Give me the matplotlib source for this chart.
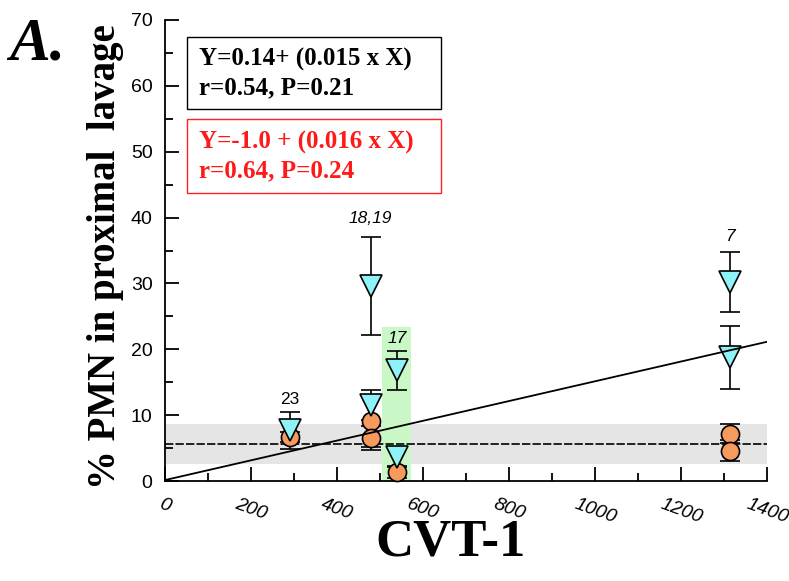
import matplotlib
matplotlib.use("Agg")
import matplotlib.pyplot as plt
from matplotlib.patches import Rectangle
import numpy as np

# ---- data ----
tri_x = [291, 478, 478, 540, 540, 1314, 1314]
tri_y = [7.7, 29.6, 11.5, 16.8, 3.7, 30.2, 18.8]
tri_err = [2.8, 7.5, 2.3, 2.95, 1.5, 4.55, 4.8]

circ_x = [291, 478, 478, 540, 1314, 1314]
circ_y = [6.7, 9.1, 6.5, 1.4, 7.2, 4.6]
circ_err = [0.8, 4.0, 1.8, 0.9, 1.4, 1.6]

ann_x = [291, 478, 540, 1314]
ann_y = [12.3, 39.8, 21.7, 37.1]
ann_text = ["23", "18,19", "17", "7"]
ann_italic = [False, True, True, True]

fit_intercept = 0.14
fit_slope = 0.015
ref_mean = 5.6
ref_low, ref_high = 2.6, 8.6
green_x0, green_x1, green_top = 504, 571, 23.4

xticks = [0, 200, 400, 600, 800, 1000, 1200, 1400]
yticks = [0, 10, 20, 30, 40, 50, 60, 70]

W, H = 789, 581
fig = plt.figure(figsize=(W / 100, H / 100), dpi=100)
ax = fig.add_axes([165 / W, 1 - 481 / H, (767 - 165) / W, (481 - 20) / H])

ax.set_xlim(0, 1400)
ax.set_ylim(0, 70)

# reference band
ax.axhspan(ref_low, ref_high, color="#E5E5E5", zorder=0, lw=0)
ax.axhline(ref_mean, color="black", lw=1.2, dashes=(5, 1.3), zorder=1)
# green highlight
ax.add_patch(Rectangle((green_x0, 0), green_x1 - green_x0, green_top,
                       facecolor="#C9F8C6", edgecolor="none", zorder=0.5))

# error bars
ax.errorbar(circ_x, circ_y, yerr=circ_err, fmt="none", ecolor="black",
            elinewidth=1.2, capsize=7, capthick=1.2, zorder=3)
ax.errorbar(tri_x, tri_y, yerr=tri_err, fmt="none", ecolor="black",
            elinewidth=1.2, capsize=7, capthick=1.2, zorder=3)

ax.plot(circ_x, circ_y, "o", ms=13, mfc="#F79A5E", mec="black", mew=1.2,
        ls="none", zorder=4, clip_on=False)
ax.plot(tri_x, tri_y, "v", ms=15.5, mfc="#8DF3F8", mec="black", mew=1.2,
        ls="none", zorder=5, clip_on=False)

# regression line
xl = np.array([0, 1400])
ax.plot(xl, fit_intercept + fit_slope * xl, color="black", lw=1.3, zorder=6)

for x, y, t, it in zip(ann_x, ann_y, ann_text, ann_italic):
    ax.text(x, y, t, ha="center", va="center", fontsize=12.5,
            fontstyle="italic" if it else "normal", family="Liberation Sans",
            zorder=7)

# spines / ticks
for s in ["top", "right"]:
    ax.spines[s].set_visible(False)
ax.spines["left"].set_linewidth(1.3)
ax.spines["bottom"].set_linewidth(1.3)
ax.set_xticks(xticks)
ax.set_yticks(yticks)
ax.set_xticks(np.arange(100, 1400, 200), minor=True)
ax.set_yticks(np.arange(5, 70, 10), minor=True)
ax.tick_params(which="major", direction="in", length=10, width=1.3)
ax.tick_params(which="minor", direction="in", length=6, width=1.3)
ax.tick_params(axis="y", labelsize=14, pad=9)
ax.tick_params(axis="x", labelsize=14, pad=11)
for lab in ax.get_yticklabels():
    lab.set_family("Liberation Sans")
ax.set_xticklabels([str(v) for v in xticks], rotation=-20, ha="center",
                   va="top", fontstyle="italic", family="Liberation Sans")

fig.text(451 / W, 1 - 555 / H, "CVT-1", fontsize=38, fontweight="bold",
         family="Liberation Serif", ha="center", va="baseline")
fig.text(106 / W, 1 - 257 / H, "% PMN in proximal  lavage", fontsize=28,
         fontweight="bold", family="Liberation Serif", rotation=90,
         ha="center", va="center")

fig.text(9 / W, 1 - 60 / H, "A.", fontsize=44, fontweight="bold",
         fontstyle="italic", family="Liberation Serif", ha="left", va="baseline")

# equation boxes
fig.patches.append(Rectangle((187 / W, 1 - 109 / H), (441 - 187) / W, (109 - 37) / H,
                             transform=fig.transFigure, facecolor="white",
                             edgecolor="black", lw=1.0, zorder=8))
fig.patches.append(Rectangle((187 / W, 1 - 193 / H), (441 - 187) / W, (193 - 119) / H,
                             transform=fig.transFigure, facecolor="white",
                             edgecolor="#FF2020", lw=1.0, zorder=8))
fig.text(199 / W, 1 - 59 / H, "Y=0.14+ (0.015 x X)", fontsize=18, fontweight="bold",
         family="Liberation Serif", va="center", ha="left", color="black", zorder=9)
fig.text(199 / W, 1 - 88 / H, "r=0.54, P=0.21", fontsize=18, fontweight="bold",
         family="Liberation Serif", va="center", ha="left", color="black", zorder=9)
fig.text(199 / W, 1 - 142 / H, "Y=-1.0 + (0.016 x X)", fontsize=18, fontweight="bold",
         family="Liberation Serif", va="center", ha="left", color="#FF1A1A", zorder=9)
fig.text(199 / W, 1 - 171 / H, "r=0.64, P=0.24", fontsize=18, fontweight="bold",
         family="Liberation Serif", va="center", ha="left", color="#FF1A1A", zorder=9)

fig.savefig("out.png", dpi=100)
